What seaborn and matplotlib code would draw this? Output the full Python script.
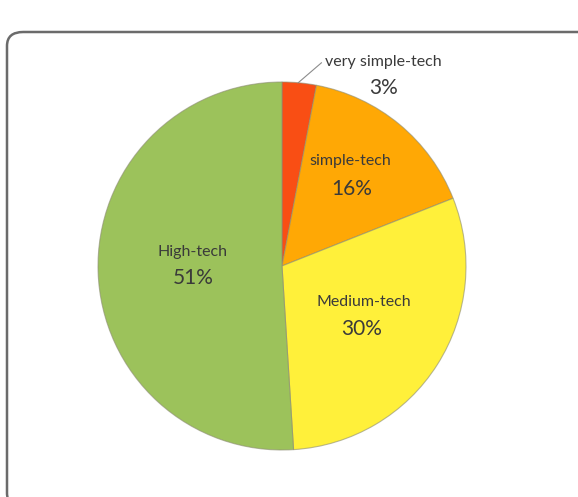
import matplotlib
matplotlib.use("Agg")
import matplotlib.pyplot as plt
import seaborn as sns
from matplotlib.patches import FancyBboxPatch

# values of the pie, clockwise from the top
categories = ["very simple-tech", "simple-tech", "Medium-tech", "High-tech"]
shares = [3, 16, 30, 51]
colors = ["#F94E14", "#FFA805", "#FFF03A", "#9CC25B"]

# where each label sits (in pie units, radius = 1)
label_pos = [(0.55, 1.11), (0.37, 0.57), (0.445, -0.195), (-0.485, 0.075)]
pct_pos = [(0.55, 0.965), (0.38, 0.42), (0.43, -0.34), (-0.48, -0.065)]

sns.set_theme(style="white")
plt.rcParams["font.family"] = ["Lato", "DejaVu Sans"]
pal = sns.color_palette(colors)

fig = plt.figure(figsize=(5.78, 4.97), dpi=100)

# rounded frame that runs off the right and bottom of the picture
frame = FancyBboxPatch((7 / 578, -10 / 497), 590 / 578, 475 / 497,
                       boxstyle="round,pad=0,rounding_size=0.028",
                       transform=fig.transFigure, fill=False,
                       edgecolor="#6b6b6b", linewidth=1.8, clip_on=False)
fig.patches.append(frame)

# pie centre at (282, 266) px, radius 184 px
ax = fig.add_axes([(282 - 184) / 578, (231 - 184) / 497, 368 / 578, 368 / 497])
ax.pie(shares, colors=pal, startangle=90, counterclock=False, radius=1,
       wedgeprops=dict(edgecolor=(0.55, 0.55, 0.45, 0.6), linewidth=0.8))
ax.set_xlim(-1, 1)
ax.set_ylim(-1, 1)
ax.set_aspect("equal")
ax.axis("off")

for i, (name, v) in enumerate(zip(categories, shares)):
    lx, ly = label_pos[i]
    px, py = pct_pos[i]
    ax.text(lx, ly, name, ha="center", va="center", fontsize=11.5, color="#3a3a3a")
    ax.text(px, py, f"{v}%", ha="center", va="center", fontsize=15, color="#3a3a3a")

# leader line for the small slice
ax.plot([0.087, 0.215], [0.995, 1.105], color="#8c8c8c", linewidth=0.8, clip_on=False)

fig.savefig("out.png", dpi=100)
